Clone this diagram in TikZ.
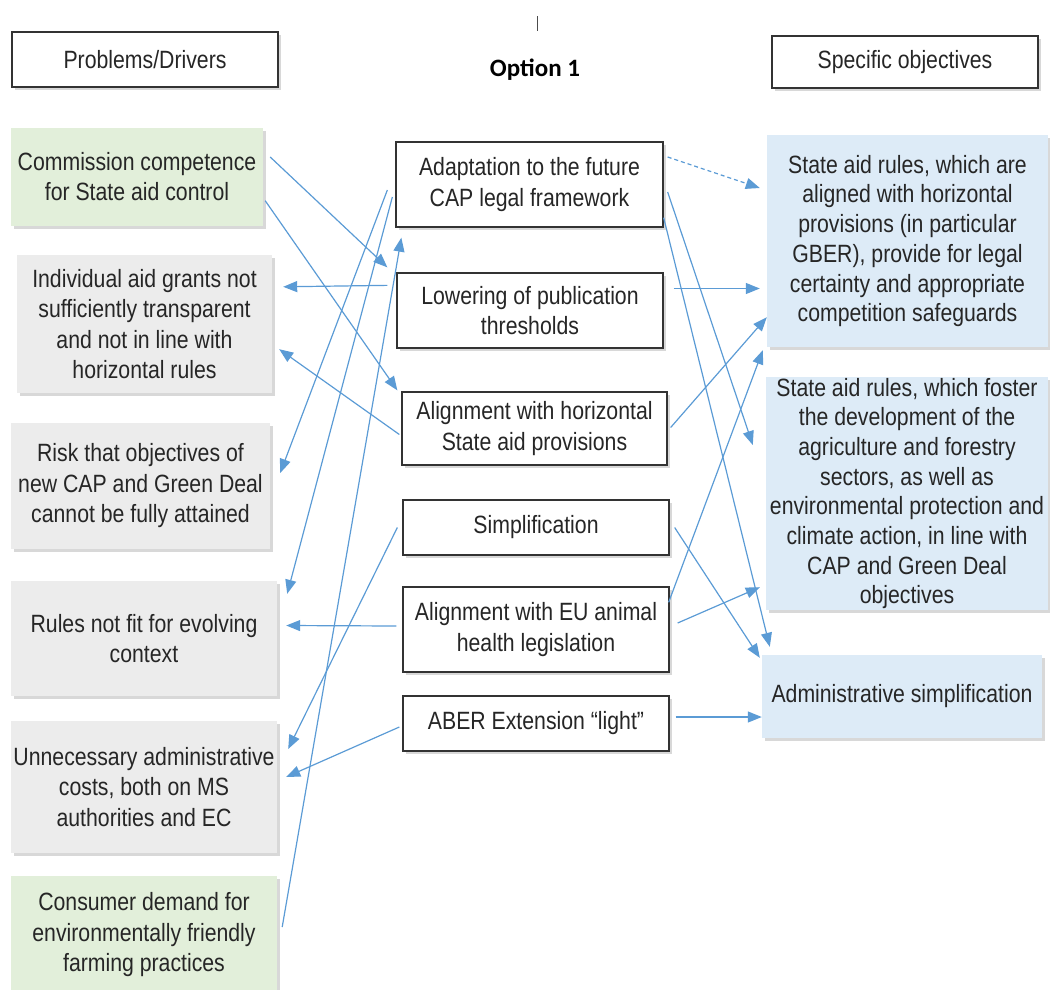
\documentclass[tikz,border=0pt]{standalone}
\usepackage{fontspec}
\setmainfont{Liberation Sans}[FakeStretch=0.85]
\newfontfamily\optfont{Carlito}
\usetikzlibrary{arrows.meta,shadows}

\definecolor{greenbox}{RGB}{226,239,218}
\definecolor{greybox}{RGB}{236,236,236}
\definecolor{bluebox}{RGB}{221,235,247}
\definecolor{linkblue}{RGB}{91,155,213}

\tikzset{
  base/.style={align=center, inner sep=0pt, text=black!85,
    font=\fontsize{25}{30.5}\selectfont,
    drop shadow={shadow xshift=3pt, shadow yshift=-3pt, fill=black!30}},
  framed/.style={base, draw=black!80, line width=1.3pt, fill=white},
  driver/.style={base, fill=greenbox},
  problem/.style={base, fill=greybox},
  objective/.style={base, fill=bluebox, font=\fontsize{25}{29.7}\selectfont},
  link/.style={draw=linkblue, line width=1.2pt, -{Triangle[length=14pt,width=11pt]}}
}

\begin{document}
\begin{tikzpicture}[x=1pt,y=-1pt]
\useasboundingbox (0,0) rectangle (1050,989);

% headers
\draw[black!70, line width=1pt] (537,16) -- (537,31);
\node[framed, minimum width=266pt, minimum height=55pt] (drivers) at (145,59.5) {Problems/Drivers};
\node[font={\optfont\bfseries\fontsize{25}{28}\selectfont}] (option) at (535,70) {Option 1};
\node[framed, minimum width=266pt, minimum height=52pt] (objectives) at (905,62) {Specific objectives};

% problems / drivers
\node[driver, minimum width=252pt, minimum height=98pt] (commission) at (137,176.5)
  {Commission competence\\for State aid control};
\node[problem, minimum width=255pt, minimum height=138pt] (individual) at (144.5,324)
  {Individual aid grants not\\sufficiently transparent\\and not in line with\\horizontal rules};
\node[problem, minimum width=259pt, minimum height=126pt] (risk) at (140.5,486)
  {Risk that objectives of\\new CAP and Green Deal\\cannot be fully attained};
\node[problem, minimum width=266pt, minimum height=115pt] (rules) at (144,638.5)
  {Rules not fit for evolving\\context};
\node[problem, minimum width=266pt, minimum height=132pt] (unnec) at (144,787)
  {Unnecessary administrative\\costs, both on MS\\authorities and EC};
\node[driver, minimum width=266pt, minimum height=118pt] (consumer) at (144,935)
  {Consumer demand for\\environmentally friendly\\farming practices};

% option 1 measures
\node[framed, minimum width=267pt, minimum height=85pt] (adapt) at (529.5,184.5)
  {Adaptation to the future\\CAP legal framework};
\node[framed, minimum width=266pt, minimum height=75pt] (lower) at (530,310.5)
  {Lowering of publication\\thresholds};
\node[framed, minimum width=265pt, minimum height=73pt] (alignh) at (534.5,428.5)
  {Alignment with horizontal\\State aid provisions};
\node[framed, minimum width=266pt, minimum height=55pt] (simpl) at (536,527.5)
  {Simplification};
\node[framed, minimum width=266pt, minimum height=85pt] (aligneu) at (536,629.5)
  {Alignment with EU animal\\health legislation};
\node[framed, minimum width=266pt, minimum height=55pt] (aber) at (536,723.5)
  {ABER Extension “light”};

% specific objectives
\node[objective, minimum width=281pt, minimum height=212pt] (sar1) at (907.5,241)
  {State aid rules, which are\\aligned with horizontal\\provisions (in particular\\GBER), provide for legal\\certainty and appropriate\\competition safeguards};
\node[objective, minimum width=282pt, minimum height=233pt] (sar2) at (907,493.5)
  {State aid rules, which foster\\the development of the\\agriculture and forestry\\sectors, as well as\\environmental protection and\\climate action, in line with\\CAP and Green Deal\\objectives};
\node[objective, minimum width=280pt, minimum height=83pt] (admin) at (902,696.5)
  {Administrative simplification};

% links to the problems
\draw[link] ([shift={(7,-19.5)}]commission.east) -- ([shift={(-9,-5)}]lower.north west);
\draw[link] ([shift={(2,-25)}]commission.south east) -- ([shift={(-4,-1)}]alignh.north west);
\draw[link] ([shift={(-9,13)}]lower.north west) -- ([shift={(11,32)}]individual.north east);
\draw[link] ([shift={(-2,6)}]alignh.west) -- ([shift={(7,-44)}]individual.south east);
\draw[link] ([shift={(-8,5.5)}]adapt.west) -- ([shift={(10,-13)}]risk.east);
\draw[link] ([shift={(-3,12.5)}]adapt.west) -- ([shift={(10,13)}]rules.north east);
\draw[link] ([shift={(5,-8)}]consumer.east) -- ([shift={(6,10)}]adapt.south west);
\draw[link] ([shift={(-5,0)}]simpl.west) -- ([shift={(11,-38)}]unnec.east);
\draw[link] ([shift={(-6,-3.5)}]aligneu.west) -- ([shift={(9,-13)}]rules.east);
\draw[link] ([shift={(-3,3.5)}]aber.west) -- ([shift={(9,-10)}]unnec.east);

% links to the objectives
\draw[link, dash pattern=on 4pt off 3pt] ([shift={(4,-27.5)}]adapt.east) -- ([shift={(-7,-53)}]sar1.west);
\draw[link] ([shift={(4,7.5)}]adapt.east) -- ([shift={(-13,-48.5)}]sar2.west);
\draw[link] ([shift={(0,-10)}]adapt.south east) -- ([shift={(8,-8)}]admin.north west);
\draw[link] ([shift={(10,-22)}]lower.east) -- ([shift={(-7,47.5)}]sar1.west);
\draw[link] ([shift={(3,-1)}]alignh.east) -- ([shift={(0,-30)}]sar1.south west);
\draw[link] ([shift={(-1,16)}]aligneu.north east) -- ([shift={(-4,3)}]sar1.south west);
\draw[link] ([shift={(8,-6.5)}]aligneu.east) -- ([shift={(-6,-23)}]sar2.south west);
\draw[link] ([shift={(5,0)}]simpl.east) -- ([shift={(-2,3)}]admin.north west);
\draw[link] ([shift={(6,-6.5)}]aber.east) -- ([shift={(0,20.5)}]admin.west);
\end{tikzpicture}
\end{document}
